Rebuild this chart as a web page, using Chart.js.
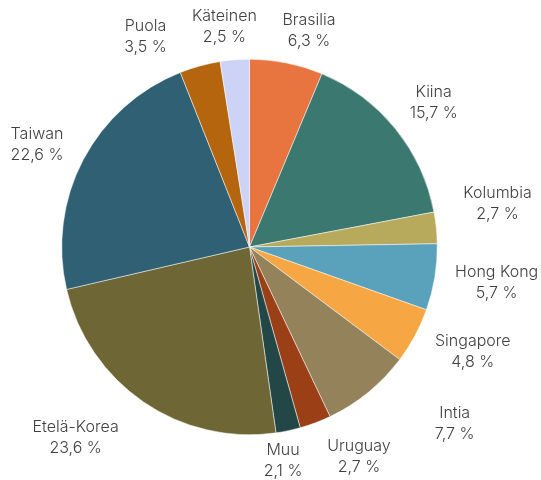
<!DOCTYPE html>
<html>
<head>
<meta charset="utf-8">
<script src="https://cdn.jsdelivr.net/npm/chart.js@4/dist/chart.umd.min.js"></script>
<style>
  html, body { margin: 0; padding: 0; background: #fff; }
  #wrap { width: 541px; height: 480px; }
</style>
</head>
<body>
<div id="wrap"><canvas id="chart"></canvas></div>
<script>
const categories = ['Brasilia', 'Kiina', 'Kolumbia', 'Hong Kong', 'Singapore', 'Intia',
  'Uruguay', 'Muu', 'Etelä-Korea', 'Taiwan', 'Puola', 'Käteinen'];
const shares = [6.3, 15.7, 2.7, 5.7, 4.8, 7.7, 2.7, 2.1, 23.6, 22.6, 3.5, 2.5];
const colors = ['#E8743F', '#3B7870', '#B8AA5C', '#5AA2BC', '#F6A744', '#94825A',
  '#9B3F17', '#234746', '#6E6735', '#2F6073', '#B4650E', '#CDD2F7'];

// label placement: angle shift (deg) from slice middle, distance beyond the rim (px)
const labelPlacement = {
  'Brasilia': [4, 37], 'Kiina': [1, 46], 'Kolumbia': [-4, 64], 'Hong Kong': [-1, 62],
  'Singapore': [-3, 59], 'Intia': [-10, 83], 'Uruguay': [-7, 49], 'Muu': [3, 29],
  'Etelä-Korea': [8, 70], 'Taiwan': [-2, 48], 'Puola': [-11, 47], 'Käteinen': [-2, 34],
};

const fmt = (v) => v.toFixed(1).replace('.', ',') + ' %';

const outsideLabels = {
  id: 'outsideLabels',
  afterDatasetsDraw(chart) {
    const ctx = chart.ctx;
    const meta = chart.getDatasetMeta(0);
    ctx.save();
    ctx.font = '300 16px Inter, "Open Sans", sans-serif';
    ctx.fillStyle = '#404040';
    ctx.textAlign = 'center';
    ctx.textBaseline = 'middle';
    const lineH = 21;
    meta.data.forEach((arc, i) => {
      const p = arc.getProps(['x', 'y', 'startAngle', 'endAngle', 'outerRadius'], true);
      const [shift, gap] = labelPlacement[categories[i]];
      const a = (p.startAngle + p.endAngle) / 2 + shift * Math.PI / 180;
      const r = p.outerRadius + gap;
      const x = p.x + Math.cos(a) * r;
      const y = p.y + Math.sin(a) * r;
      ctx.fillText(categories[i], x, y - lineH / 2);
      ctx.fillText(fmt(shares[i]), x, y + lineH / 2);
    });
    ctx.restore();
  }
};

new Chart(document.getElementById('chart'), {
  type: 'pie',
  data: {
    labels: categories,
    datasets: [{
      data: shares,
      backgroundColor: colors,
      borderColor: '#ffffff',
      borderWidth: 0.5,
    }],
  },
  options: {
    responsive: true,
    maintainAspectRatio: false,
    animation: false,
    layout: { padding: { top: 59, bottom: 45, left: 61, right: 103 } },
    plugins: {
      legend: { display: false },
      tooltip: { enabled: false },
    },
  },
  plugins: [outsideLabels],
});
</script>
</body>
</html>
